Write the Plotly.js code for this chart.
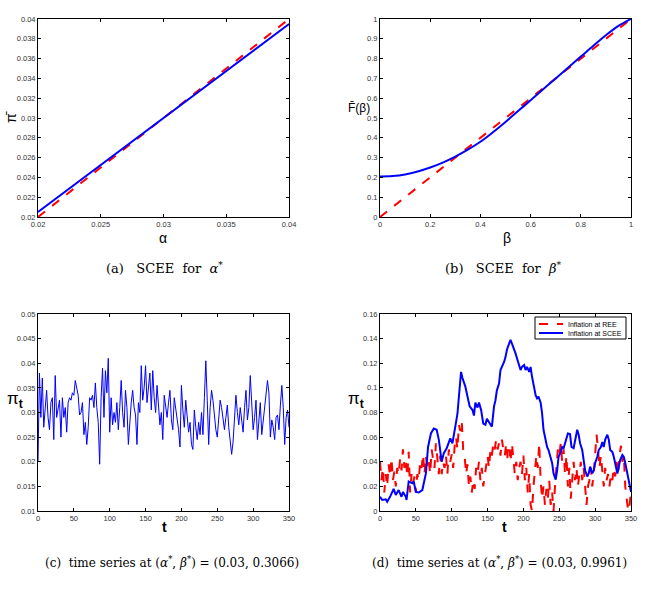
<!DOCTYPE html>
<html><head><meta charset="utf-8">
<script src="https://cdn.plot.ly/plotly-3.0.1.min.js"></script>
<style>html,body{margin:0;padding:0;background:#fff}</style>
</head><body>
<div id="plot" style="width:655px;height:590px"></div>
<script>
// (a) SCEE for alpha*
const alphaVals = [0.02, 0.04];
const piBarSCEE = [0.0205, 0.0395];
const piBarREE = [0.02, 0.04];

// (b) SCEE for beta*
const betaVals = [0, 0.05, 0.1, 0.15, 0.2, 0.25, 0.3, 0.35, 0.4, 0.45, 0.5, 0.55, 0.6, 0.65, 0.7, 0.75, 0.8, 0.85, 0.9, 0.95, 1.0];
const Fbar = [0.205, 0.207, 0.215, 0.23, 0.25, 0.275, 0.305, 0.34, 0.38, 0.428, 0.48, 0.535, 0.59, 0.645, 0.70, 0.755, 0.81, 0.865, 0.918, 0.965, 1.0];
const diagB = [0, 1];

// (c) time series at (0.03, 0.3066)
const tC = [0,2,4,6,8,10,12,14,16,18,20,22,24,26,28,30,32,34,36,38,40,42,44,46,48,50,52,54,56,58,60,62,64,66,68,70,72,74,76,78,80,82,84,86,88,90,92,94,96,98,100,102,104,106,108,110,112,114,116,118,120,122,124,126,128,130,132,134,136,138,140,142,144,146,148,150,152,154,156,158,160,162,164,166,168,170,172,174,176,178,180,182,184,186,188,190,192,194,196,198,200,202,204,206,208,210,212,214,216,218,220,222,224,226,228,230,232,234,236,238,240,242,244,246,248,250,252,254,256,258,260,262,264,266,268,270,272,274,276,278,280,282,284,286,288,290,292,294,296,298,300,302,304,306,308,310,312,314,316,318,320,322,324,326,328,330,332,334,336,338,340,342,344,346,348,350];
const piC = [0.020,0.038,0.029,0.037,0.027,0.031,0.0345,0.029,0.0265,0.032,0.033,0.0245,0.0375,0.029,0.031,0.0325,0.025,0.033,0.029,0.031,0.026,0.032,0.033,0.0325,0.034,0.0335,0.0365,0.035,0.0335,0.0295,0.030,0.032,0.0255,0.028,0.0235,0.027,0.033,0.0325,0.0335,0.031,0.036,0.031,0.028,0.0195,0.033,0.039,0.029,0.0385,0.034,0.041,0.026,0.033,0.0275,0.030,0.028,0.032,0.0265,0.031,0.0365,0.030,0.027,0.0345,0.031,0.0235,0.029,0.032,0.0345,0.031,0.0295,0.0235,0.032,0.030,0.0395,0.0325,0.035,0.0395,0.032,0.0355,0.038,0.0305,0.0385,0.033,0.030,0.0355,0.031,0.0275,0.030,0.0245,0.0335,0.031,0.029,0.032,0.0345,0.0285,0.0265,0.033,0.031,0.029,0.0265,0.023,0.0355,0.0305,0.027,0.0325,0.029,0.026,0.028,0.0235,0.0225,0.0305,0.027,0.0245,0.028,0.0255,0.030,0.0255,0.033,0.0405,0.0325,0.0235,0.031,0.0345,0.0325,0.029,0.0265,0.025,0.028,0.0325,0.031,0.029,0.0265,0.029,0.0315,0.027,0.024,0.0215,0.024,0.029,0.0335,0.030,0.0275,0.031,0.028,0.026,0.031,0.0345,0.0285,0.031,0.0375,0.031,0.0265,0.029,0.0325,0.0245,0.029,0.032,0.0255,0.028,0.0305,0.033,0.0365,0.034,0.025,0.0285,0.027,0.0245,0.029,0.0295,0.0265,0.0315,0.0355,0.031,0.0235,0.029,0.0305,0.027];

// (d) time series at (0.03, 0.9961)
const tREE = [0,2,4,6,8,10,12,14,16,18,20,22,24,26,28,30,32,34,36,38,40,42,44,46,48,50,52,54,56,58,60,62,64,66,68,70,72,74,76,78,80,82,84,86,88,90,92,94,96,98,100,102,104,106,108,110,112,114,116,118,120,122,124,126,128,130,132,134,136,138,140,142,144,146,148,150,152,154,156,158,160,162,164,166,168,170,172,174,176,178,180,182,184,186,188,190,192,194,196,198,200,202,204,206,208,210,212,214,216,218,220,222,224,226,228,230,232,234,236,238,240,242,244,246,248,250,252,254,256,258,260,262,264,266,268,270,272,274,276,278,280,282,284,286,288,290,292,294,296,298,300,302,304,306,308,310,312,314,316,318,320,322,324,326,328,330,332,334,336,338,340,342,344,346,348,350];
const piREE = [0.04,0.025,0.035,0.015,0.03,0.02,0.038,0.028,0.043,0.025,0.032,0.02,0.035,0.03,0.042,0.033,0.05,0.035,0.042,0.028,0.048,0.015,0.03,0.022,0.028,0.015,0.03,0.025,0.04,0.035,0.046,0.03,0.045,0.035,0.04,0.03,0.05,0.04,0.035,0.055,0.04,0.03,0.045,0.03,0.04,0.035,0.045,0.03,0.05,0.04,0.046,0.035,0.052,0.06,0.05,0.07,0.065,0.073,0.05,0.045,0.03,0.038,0.02,0.028,0.015,0.025,0.018,0.035,0.03,0.04,0.025,0.035,0.02,0.03,0.04,0.045,0.035,0.05,0.045,0.055,0.05,0.058,0.05,0.055,0.045,0.058,0.05,0.045,0.055,0.042,0.05,0.04,0.055,0.045,0.03,0.04,0.025,0.035,0.04,0.03,0.045,0.025,0.035,0.015,0.03,0.005,0.0,0.02,0.03,0.045,0.035,0.055,0.025,0.01,0.02,0.005,0.018,0.01,0.025,0.005,0.015,0.0,0.02,0.035,0.05,0.045,0.055,0.04,0.05,0.03,0.045,0.02,0.035,0.01,0.03,0.04,0.025,0.035,0.02,0.03,0.04,0.025,0.035,0.02,0.005,0.02,0.025,0.035,0.02,0.03,0.045,0.062,0.05,0.035,0.045,0.03,0.02,0.035,0.025,0.03,0.02,0.03,0.025,0.035,0.028,0.04,0.03,0.045,0.053,0.04,0.045,0.02,0.01,0.0,0.005,0.015];
const tSCEE = [0,3,8,10,14,17,19,22,24,26,30,32,36,37,40,45,47,50,54,59,64,67,71,75,79,82,86,89,93,96,98,101,103,105,108,110,113,115,117,119,122,125,129,131,133,136,138,141,144,147,149,152,154,156,159,161,163,166,168,170,173,175,177,180,182,184,187,189,191,194,196,198,201,203,205,208,210,212,214,217,219,221,224,226,228,231,233,235,238,240,242,245,247,249,252,254,256,259,262,265,267,270,272,275,277,279,282,284,286,289,291,293,296,298,300,303,305,308,310,312,314,317,319,321,324,326,328,331,333,335,338,340,342,345,347,350];
const piSCEE = [0.0115,0.009,0.0095,0.0075,0.0115,0.0155,0.018,0.013,0.015,0.017,0.0115,0.0155,0.0115,0.009,0.024,0.0225,0.024,0.0155,0.015,0.017,0.0305,0.052,0.063,0.067,0.066,0.058,0.040,0.047,0.051,0.055,0.059,0.055,0.064,0.0685,0.079,0.096,0.113,0.108,0.105,0.101,0.093,0.085,0.082,0.0775,0.088,0.084,0.088,0.082,0.071,0.070,0.075,0.0725,0.070,0.0685,0.085,0.090,0.098,0.1035,0.1145,0.117,0.121,0.125,0.131,0.136,0.139,0.136,0.132,0.128,0.124,0.117,0.1145,0.117,0.1185,0.1145,0.117,0.113,0.117,0.109,0.1035,0.094,0.0915,0.093,0.088,0.0795,0.066,0.058,0.052,0.0495,0.044,0.039,0.0305,0.0255,0.033,0.044,0.048,0.052,0.051,0.058,0.063,0.0625,0.052,0.051,0.058,0.066,0.062,0.055,0.0495,0.039,0.033,0.028,0.0305,0.036,0.0305,0.033,0.039,0.044,0.0495,0.052,0.056,0.052,0.058,0.062,0.058,0.0495,0.048,0.044,0.039,0.0305,0.036,0.0415,0.0455,0.044,0.039,0.0305,0.024,0.0155];
const legendLabels = ['Inflation at REE', 'Inflation at SCEE'];

const W = 655, H = 590;
const px = x => x / W, py = y => 1 - y / H;
const BLUE = 'rgb(0,0,255)', RED = 'rgb(255,0,0)';

const traces = [
  {x: alphaVals, y: piBarREE, xaxis: 'x', yaxis: 'y', mode: 'lines', line: {color: RED, dash: 'dash', width: 2}},
  {x: alphaVals, y: piBarSCEE, xaxis: 'x', yaxis: 'y', mode: 'lines', line: {color: BLUE, width: 2}},
  {x: diagB, y: diagB, xaxis: 'x2', yaxis: 'y2', mode: 'lines', line: {color: RED, dash: 'dash', width: 2}},
  {x: betaVals, y: Fbar, xaxis: 'x2', yaxis: 'y2', mode: 'lines', line: {color: BLUE, width: 2, shape: 'spline'}},
  {x: tC, y: piC, xaxis: 'x3', yaxis: 'y3', mode: 'lines', line: {color: BLUE, width: 1}},
  {x: tREE, y: piREE, xaxis: 'x4', yaxis: 'y4', mode: 'lines', name: legendLabels[0], line: {color: RED, dash: 'dash', width: 2}},
  {x: tSCEE, y: piSCEE, xaxis: 'x4', yaxis: 'y4', mode: 'lines', name: legendLabels[1], line: {color: BLUE, width: 2}}
];

const tickFont = {family: 'Liberation Sans, Arial, sans-serif', size: 7.5, color: '#333'};
function ax(domain, range, dtick, tick0, anchor) {
  return {domain: domain, range: range, dtick: dtick, tick0: tick0, anchor: anchor,
    showgrid: false, zeroline: false, showline: true, linecolor: '#000', linewidth: 1,
    mirror: 'allticks', ticks: 'inside', ticklen: 3, tickcolor: '#000', tickfont: tickFont,
    autorange: false, fixedrange: true};
}
const xdA = [px(38), px(289)], xdB = [px(380), px(631)];
const ydTop = [py(217), py(19)], ydBot = [py(511), py(314)];

const serif = 'DejaVu Serif, Liberation Serif, serif';
const sans = 'Liberation Sans, Arial, sans-serif';
function ann(x, y, text, size, family, extra) {
  return Object.assign({xref: 'paper', yref: 'paper', x: px(x), y: py(y), text: text, showarrow: false,
    xanchor: 'center', yanchor: 'middle', font: {family: family, size: size, color: '#000'}}, extra || {});
}

// hand-built legend box for panel (d)
const shapes = [
  {type: 'rect', xref: 'paper', yref: 'paper', x0: px(535), x1: px(626), y0: py(339), y1: py(317),
    line: {color: '#000', width: 1}, fillcolor: '#fff', layer: 'above'},
  {type: 'line', xref: 'paper', yref: 'paper', x0: px(539), x1: px(563), y0: py(324), y1: py(324),
    line: {color: RED, width: 2, dash: 'dash'}, layer: 'above'},
  {type: 'line', xref: 'paper', yref: 'paper', x0: px(539), x1: px(563), y0: py(333), y1: py(333),
    line: {color: BLUE, width: 2}, layer: 'above'}
];

const layout = {
  width: W, height: H, margin: {l: 0, r: 0, t: 0, b: 0},
  paper_bgcolor: '#fff', plot_bgcolor: '#fff', showlegend: false,
  xaxis: ax(xdA, [0.02, 0.04], 0.005, 0.02, 'y'),
  yaxis: ax(ydTop, [0.02, 0.04], 0.002, 0.02, 'x'),
  xaxis2: ax(xdB, [0, 1], 0.2, 0, 'y2'),
  yaxis2: ax(ydTop, [0, 1], 0.1, 0, 'x2'),
  xaxis3: ax(xdA, [0, 350], 50, 0, 'y3'),
  yaxis3: ax(ydBot, [0.01, 0.05], 0.005, 0.01, 'x3'),
  xaxis4: ax(xdB, [0, 350], 50, 0, 'y4'),
  yaxis4: ax(ydBot, [0, 0.16], 0.02, 0, 'x4'),
  shapes: shapes,
  annotations: [
    ann(566, 324, legendLabels[0], 7, sans, {xanchor: 'left'}),
    ann(566, 333, legendLabels[1], 7, sans, {xanchor: 'left'}),
    ann(163, 238, 'α', 14, sans),
    ann(507, 238, 'β', 14, sans),
    ann(165, 527, '<b>t</b>', 14, sans),
    ann(505, 527, '<b>t</b>', 14, sans),
    ann(11, 117, 'π̄', 14, sans, {textangle: -90}),
    ann(359, 108, 'F̄(β)', 12, sans),
    ann(15, 400, 'π<sub><b>t</b></sub>', 17, sans),
    ann(356, 400, 'π<sub><b>t</b></sub>', 17, sans),
    ann(165, 268, '(a)   SCEE  for  <i>α</i><sup>*</sup>', 13, serif),
    ann(503, 268, '(b)   SCEE  for  <i>β</i><sup>*</sup>', 13, serif),
    ann(172, 562, '(c)  time series at (<i>α</i><sup>*</sup>, <i>β</i><sup>*</sup>) = (0.03, 0.3066)', 12, serif),
    ann(499, 562, '(d)  time series at (<i>α</i><sup>*</sup>, <i>β</i><sup>*</sup>) = (0.03, 0.9961)', 12, serif)
  ]
};

Plotly.newPlot('plot', traces, layout, {displayModeBar: false, staticPlot: true});
</script>
</body></html>
